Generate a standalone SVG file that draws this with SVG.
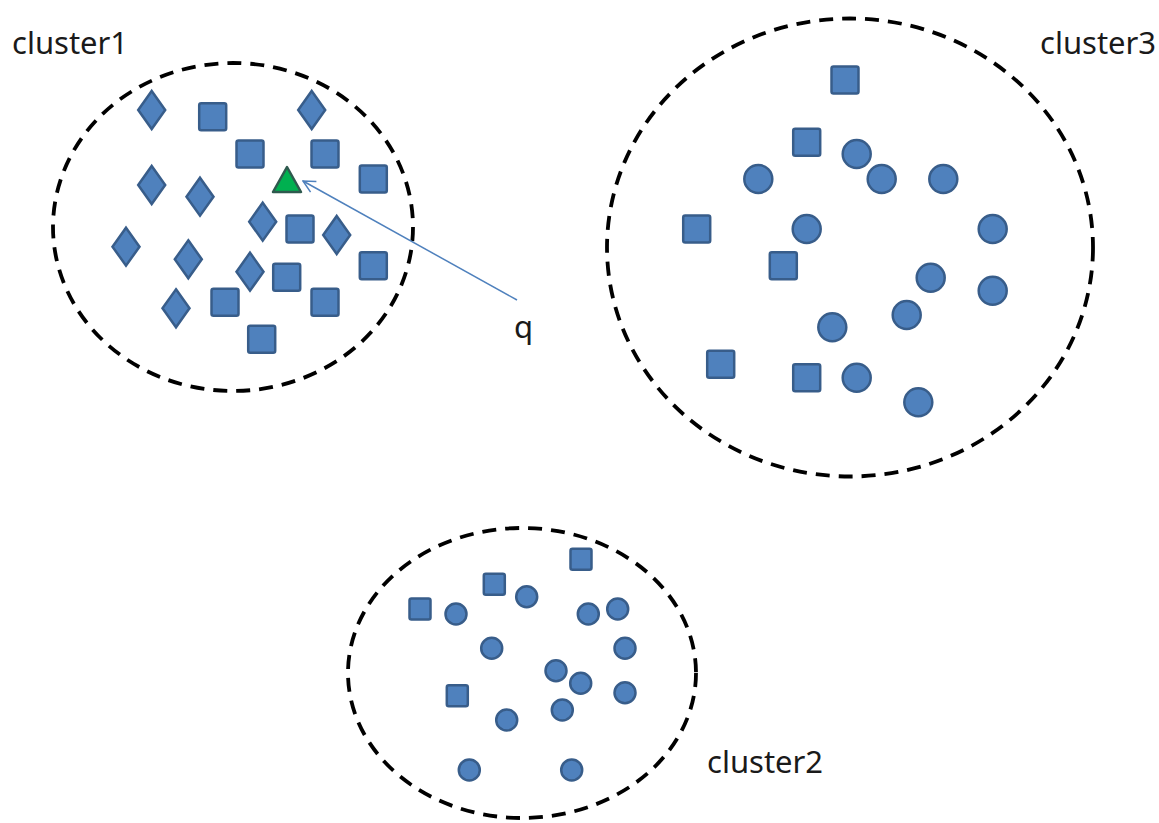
<svg xmlns="http://www.w3.org/2000/svg" width="1159" height="823" viewBox="0 0 1159 823">
<defs>
<style>
.bound{fill:none;stroke:#000;stroke-width:3.8;stroke-dasharray:14 9}
.pt{fill:#4F81BD;stroke:#385D8A;stroke-width:2.5}
.lbl{font-family:"Noto Sans","Liberation Sans",sans-serif;font-size:31px;fill:#1a1a1a}
</style>
<rect id="sq" x="-13.5" y="-13.5" width="27" height="27" rx="2" class="pt"/>
<rect id="sqs" x="-10.5" y="-10.5" width="21" height="21" rx="2" class="pt"/>
<path id="dm" d="M0,-19 L13.5,0 L0,19 L-13.5,0 Z" class="pt"/>
<circle id="ci" r="14" class="pt"/>
<circle id="cis" r="10.5" class="pt"/>
<marker id="open" viewBox="0 0 14 14" refX="13" refY="7" markerWidth="14" markerHeight="14" markerUnits="userSpaceOnUse" orient="auto">
<path d="M1,1 L13,7 L1,13" fill="none" stroke="#4F81BD" stroke-width="1.5"/>
</marker>
</defs>
<rect width="1159" height="823" fill="#fff"/>

<g id="cluster1">
<ellipse cx="233" cy="227" rx="180" ry="164" class="bound"/>
<use href="#dm" x="151.7" y="110"/>
<use href="#dm" x="311.7" y="110"/>
<use href="#dm" x="151.7" y="185"/>
<use href="#dm" x="200" y="196.7"/>
<use href="#dm" x="262.7" y="221.7"/>
<use href="#dm" x="336.7" y="235"/>
<use href="#dm" x="126" y="246.7"/>
<use href="#dm" x="188.3" y="259.3"/>
<use href="#dm" x="250" y="271.7"/>
<use href="#dm" x="176" y="308.3"/>
<use href="#sq" x="212.7" y="116.7"/>
<use href="#sq" x="250" y="154"/>
<use href="#sq" x="325" y="154"/>
<use href="#sq" x="373.3" y="179"/>
<use href="#sq" x="300" y="229"/>
<use href="#sq" x="373.3" y="265.7"/>
<use href="#sq" x="286.7" y="277.3"/>
<use href="#sq" x="225" y="302.3"/>
<use href="#sq" x="325" y="302.3"/>
<use href="#sq" x="261.7" y="339.3"/>
<text class="lbl" x="12" y="54">cluster1</text>
</g>

<g id="query">
<path d="M287,167 L301,192 L273,192 Z" fill="#00B050" stroke="#2E5A4E" stroke-width="2.5" stroke-linejoin="round"/>
<text class="lbl" x="514" y="338">q</text>
</g>

<g id="cluster3">
<ellipse cx="850" cy="247.5" rx="243" ry="229" class="bound"/>
<use href="#sq" x="845" y="80"/>
<use href="#sq" x="806.7" y="142.3"/>
<use href="#sq" x="696.7" y="229"/>
<use href="#sq" x="783.3" y="265.7"/>
<use href="#sq" x="720.7" y="364.3"/>
<use href="#sq" x="806.7" y="377.7"/>
<use href="#ci" x="856.7" y="154"/>
<use href="#ci" x="758.3" y="179"/>
<use href="#ci" x="881.7" y="179"/>
<use href="#ci" x="943.3" y="179"/>
<use href="#ci" x="806.7" y="229"/>
<use href="#ci" x="992.7" y="229"/>
<use href="#ci" x="930.7" y="277.7"/>
<use href="#ci" x="992.7" y="290.7"/>
<use href="#ci" x="906.7" y="315"/>
<use href="#ci" x="832.3" y="327.3"/>
<use href="#ci" x="856.7" y="377.7"/>
<use href="#ci" x="918.3" y="402.3"/>
<text class="lbl" x="1040" y="54">cluster3</text>
</g>

<g id="cluster2">
<ellipse cx="522" cy="673" rx="174" ry="145" class="bound"/>
<use href="#sqs" x="581" y="559.3"/>
<use href="#sqs" x="494.3" y="584.3"/>
<use href="#sqs" x="420" y="609"/>
<use href="#sqs" x="457.3" y="695.7"/>
<use href="#cis" x="526.7" y="596.7"/>
<use href="#cis" x="456" y="614"/>
<use href="#cis" x="588.3" y="614"/>
<use href="#cis" x="617.7" y="609"/>
<use href="#cis" x="491.7" y="648.3"/>
<use href="#cis" x="625" y="648.3"/>
<use href="#cis" x="556" y="670.7"/>
<use href="#cis" x="580.7" y="683.3"/>
<use href="#cis" x="625" y="692.7"/>
<use href="#cis" x="562.3" y="710"/>
<use href="#cis" x="506.7" y="720"/>
<use href="#cis" x="469.3" y="770"/>
<use href="#cis" x="571.7" y="770"/>
<text class="lbl" x="707" y="773">cluster2</text>
</g>

<g id="connectors">
<path d="M517,300 L303,181" fill="none" stroke="#4F81BD" stroke-width="1.5" marker-end="url(#open)"/>
</g>
</svg>
